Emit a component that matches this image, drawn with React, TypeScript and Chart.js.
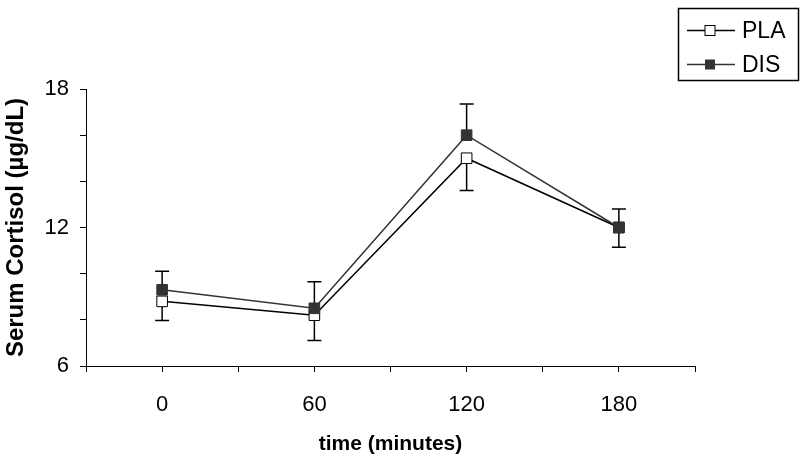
import React, { useEffect, useRef } from 'react';
import { Chart, registerables } from 'chart.js';

Chart.register(...registerables);

// ---- data ----
const times = [0, 60, 120, 180];
const plaMeans = [8.8, 8.2, 15.0, 12.0];
const plaErrDown = [0.83, 1.1, 1.4, 0.86];
const disMeans = [9.3, 8.5, 16.0, 12.0];
const disErrUp = [0.8, 1.15, 1.35, 0.8];
const xTickLabels = [0, 60, 120, 180];
const yTickLabels = [6, 12, 18];
const seriesNames = ['PLA', 'DIS'];
const xTitle = 'time (minutes)';
const yTitle = 'Serum Cortisol (µg/dL)';

const FONT = "'Liberation Sans', Arial, sans-serif";
const DIS_COLOR = '#333333';

const errorBarPlugin = {
  id: 'errorBars',
  beforeDatasetsDraw(chart: any) {
    const { ctx, scales } = chart;
    const x = scales.x;
    const y = scales.y;
    ctx.save();
    ctx.strokeStyle = '#000';
    ctx.lineWidth = 1.5;
    const cap = 7;
    const drawBar = (xv: number, from: number, to: number) => {
      const px = x.getPixelForValue(xv);
      const p1 = y.getPixelForValue(from);
      const p2 = y.getPixelForValue(to);
      ctx.beginPath();
      ctx.moveTo(px, p1);
      ctx.lineTo(px, p2);
      ctx.moveTo(px - cap, p2);
      ctx.lineTo(px + cap, p2);
      ctx.stroke();
    };
    times.forEach((t, i) => {
      drawBar(t, disMeans[i], disMeans[i] + disErrUp[i]);
      drawBar(t, plaMeans[i], plaMeans[i] - plaErrDown[i]);
    });
    ctx.restore();
  },
};

const legendPlugin = {
  id: 'boxLegend',
  afterDraw(chart: any) {
    const { ctx } = chart;
    ctx.save();
    ctx.strokeStyle = '#000';
    ctx.lineWidth = 1.5;
    ctx.strokeRect(678.5, 8.5, 120, 72);
    const rows = [30.5, 64.5];
    seriesNames.forEach((name, i) => {
      const cy = rows[i];
      ctx.beginPath();
      ctx.strokeStyle = i === 0 ? '#000' : DIS_COLOR;
      ctx.lineWidth = 1.5;
      ctx.moveTo(687, cy);
      ctx.lineTo(735, cy);
      ctx.stroke();
      const s = 10;
      if (i === 0) {
        ctx.fillStyle = '#fff';
        ctx.fillRect(710 - s / 2, cy - s / 2, s, s);
        ctx.strokeStyle = '#000';
        ctx.lineWidth = 1;
        ctx.strokeRect(710 - s / 2, cy - s / 2, s, s);
      } else {
        ctx.fillStyle = DIS_COLOR;
        ctx.fillRect(710 - s / 2, cy - s / 2, s, s);
      }
      ctx.fillStyle = '#000';
      ctx.font = `23px ${FONT}`;
      ctx.textBaseline = 'middle';
      ctx.textAlign = 'left';
      ctx.fillText(name, 742, cy + 1);
    });
    ctx.restore();
  },
};

export default function App() {
  const canvasRef = useRef<HTMLCanvasElement | null>(null);

  useEffect(() => {
    document.body.style.margin = '0';
    const canvas = canvasRef.current;
    if (!canvas) return;
    const chart = new Chart(canvas, {
      type: 'line',
      data: {
        datasets: [
          {
            label: seriesNames[0],
            data: times.map((t, i) => ({ x: t, y: plaMeans[i] })),
            borderColor: '#000',
            borderWidth: 1.5,
            backgroundColor: '#fff',
            pointStyle: 'rect',
            pointRadius: 7.5,
            pointBorderColor: '#000',
            pointBorderWidth: 1,
            pointBackgroundColor: '#fff',
            tension: 0,
            order: 2,
          },
          {
            label: seriesNames[1],
            data: times.map((t, i) => ({ x: t, y: disMeans[i] })),
            borderColor: DIS_COLOR,
            borderWidth: 1.5,
            backgroundColor: DIS_COLOR,
            pointStyle: 'rect',
            pointRadius: 7.5,
            pointBorderColor: DIS_COLOR,
            pointBorderWidth: 1,
            pointBackgroundColor: DIS_COLOR,
            tension: 0,
            order: 1,
          },
        ],
      },
      options: {
        animation: false,
        responsive: false,
        devicePixelRatio: 1,
        layout: { padding: { top: 89, right: 105, left: 0, bottom: 0 } },
        plugins: {
          legend: { display: false },
          tooltip: { enabled: false },
        },
        scales: {
          x: {
            type: 'linear',
            min: -30,
            max: 210,
            afterFit: (s: any) => {
              s.height = 94;
            },
            ticks: {
              stepSize: 30,
              autoSkip: false,
              maxRotation: 0,
              padding: 20,
              color: '#000',
              font: { family: FONT, size: 22 },
              callback: (v: any) => (xTickLabels.includes(Number(v)) ? String(v) : ''),
            },
            grid: { drawOnChartArea: false, drawTicks: true, tickLength: 6, color: '#000', lineWidth: 1 },
            border: { display: true, color: '#000', width: 1 },
            title: {
              display: true,
              text: xTitle,
              color: '#000',
              font: { family: FONT, size: 21, weight: 'bold' },
              padding: { top: 0, bottom: 3 },
            },
          },
          y: {
            type: 'linear',
            min: 6,
            max: 18,
            afterFit: (s: any) => {
              s.width = 86;
            },
            ticks: {
              stepSize: 2,
              autoSkip: false,
              padding: 11,
              color: '#000',
              font: { family: FONT, size: 22 },
              callback: (v: any) => (yTickLabels.includes(Number(v)) ? String(v) : ''),
            },
            grid: { drawOnChartArea: false, drawTicks: true, tickLength: 6, color: '#000', lineWidth: 1 },
            border: { display: true, color: '#000', width: 1 },
            title: {
              display: true,
              text: yTitle,
              color: '#000',
              font: { family: FONT, size: 24, weight: 'bold' },
              padding: { top: 2, bottom: 0 },
            },
          },
        },
      },
      plugins: [errorBarPlugin, legendPlugin],
    });
    return () => chart.destroy();
  }, []);

  return (
    <div style={{ position: 'fixed', left: 0, top: 0, width: 800, height: 460, background: '#fff' }}>
      <canvas ref={canvasRef} width={800} height={460} />
    </div>
  );
}
